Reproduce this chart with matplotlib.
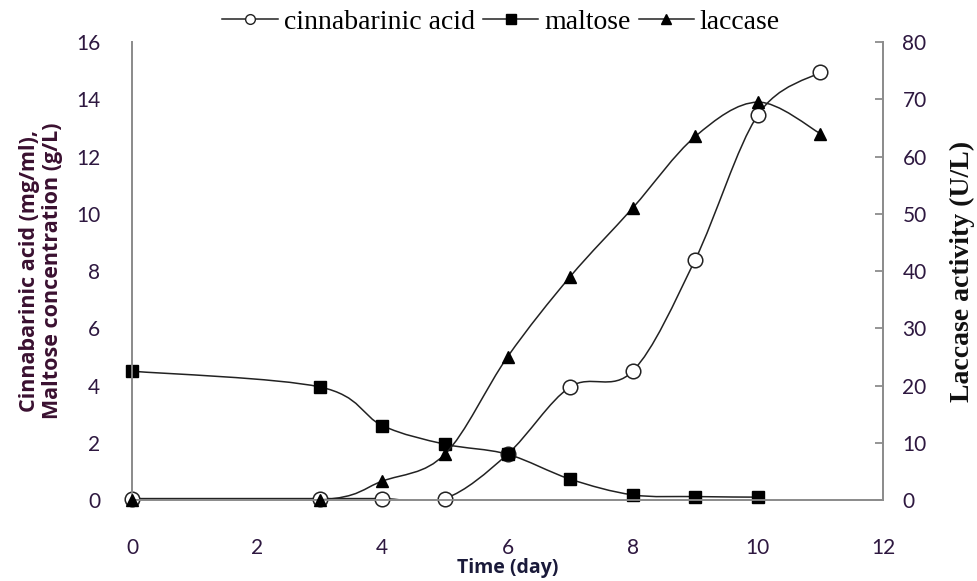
import numpy as np
import matplotlib
matplotlib.use("Agg")
import matplotlib.pyplot as plt
from matplotlib.path import Path
from matplotlib.patches import PathPatch
from matplotlib.lines import Line2D

# ---- data ----
days_ca = [0, 3, 4, 5, 6, 7, 8, 9, 10, 11]
cinnabarinic = [0.05, 0.05, 0.05, 0.05, 1.6, 3.95, 4.5, 8.4, 13.45, 14.95]

days_m = [0, 3, 4, 5, 6, 7, 8, 9, 10]
maltose = [4.5, 3.95, 2.6, 1.95, 1.6, 0.73, 0.18, 0.12, 0.1]

days_l = [0, 3, 4, 5, 6, 7, 8, 9, 10, 11]
laccase = [0, 0, 3.3, 8, 25, 39, 51, 63.5, 69.5, 64]

xticks = [0, 2, 4, 6, 8, 10, 12]
yticks_left = [0, 2, 4, 6, 8, 10, 12, 14, 16]
yticks_right = [0, 10, 20, 30, 40, 50, 60, 70, 80]

TICK_COL = '#2e1840'
LABEL_COL = '#3a1030'
SPINE_COL = '#8c8c8c'
SANS = ['Lato', 'DejaVu Sans']
BOLD_SANS = ['Open Sans', 'DejaVu Sans']
SERIF = ['Liberation Serif', 'DejaVu Serif']


def smooth_path(xs, ys):
    """Excel-style smoothed line as cubic Bezier segments through the points."""
    pts = np.column_stack([xs, ys]).astype(float)
    n = len(pts)
    verts = [pts[0]]
    codes = [Path.MOVETO]
    for i in range(n - 1):
        p0 = pts[i - 1] if i > 0 else pts[i]
        p1 = pts[i]
        p2 = pts[i + 1]
        p3 = pts[i + 2] if i + 2 < n else pts[i + 1]
        c1 = p1 + (p2 - p0) / 6.0
        c2 = p2 - (p3 - p1) / 6.0
        verts += [c1, c2, p2]
        codes += [Path.CURVE4] * 3
    return Path(verts, codes)


fig = plt.figure(figsize=(9.77, 5.81), dpi=100)
ax = fig.add_axes([0.1351, 0.1394, 0.7687, 0.7883])
ax2 = ax.twinx()

for a in (ax, ax2):
    a.set_xlim(0, 12)
    for s in a.spines.values():
        s.set_color(SPINE_COL)
        s.set_linewidth(1.3)
    a.spines['top'].set_visible(False)

ax.set_ylim(0, 16)
ax2.set_ylim(0, 80)

# lines
ax.add_patch(PathPatch(smooth_path(days_ca, cinnabarinic), fill=False, lw=1.1, color='#222222', zorder=2))
ax.add_patch(PathPatch(smooth_path(days_m, maltose), fill=False, lw=1.1, color='#222222', zorder=2))
ax2.add_patch(PathPatch(smooth_path(days_l, laccase), fill=False, lw=1.1, color='#222222', zorder=2))

ax.plot(days_ca, cinnabarinic, ls='none', marker='o', ms=10.5, mfc='white', mec='#222222', mew=1.1, zorder=4, clip_on=False)
ax.plot(days_m, maltose, ls='none', marker='s', ms=8.6, mfc='black', mec='black', zorder=5, clip_on=False)
ax2.plot(days_l, laccase, ls='none', marker='^', ms=9, mfc='black', mec='black', zorder=5, clip_on=False)

# ticks
ax.set_xticks(xticks)
ax.set_yticks(yticks_left)
ax2.set_yticks(yticks_right)
ax.tick_params(axis='x', length=0, pad=27, labelsize=15, labelcolor=TICK_COL)
ax.tick_params(axis='y', length=0, pad=23, labelsize=15, labelcolor=TICK_COL)
ax2.tick_params(axis='y', direction='in', length=6, width=1.3, color=SPINE_COL, pad=14, labelsize=15, labelcolor=TICK_COL)
for lab in ax.get_xticklabels() + ax.get_yticklabels() + ax2.get_yticklabels():
    lab.set_family(SANS)

ax.set_xlabel('Time (day)', fontsize=14, fontweight='bold', family=BOLD_SANS, color='#1a1a3a', labelpad=0)
ax.set_ylabel('Cinnabarinic acid (mg/ml),\nMaltose concentration (g/L)', fontsize=15.5, family=BOLD_SANS,
              fontweight='bold', color=LABEL_COL, labelpad=9, linespacing=1.15)
ax2.set_ylabel('Laccase activity (U/L)', fontsize=20, fontweight='bold', family=SERIF,
               color='#111111', labelpad=17)

handles = [
    Line2D([], [], color='#222222', lw=1.1, marker='o', ms=7, mfc='white', mec='#222222'),
    Line2D([], [], color='#222222', lw=1.1, marker='s', ms=7, mfc='black', mec='black'),
    Line2D([], [], color='#222222', lw=1.1, marker='^', ms=7, mfc='black', mec='black'),
]
fig.legend(handles, ['cinnabarinic acid', 'maltose', 'laccase'], loc='center', bbox_to_anchor=(0.513, 0.962),
           ncol=3, frameon=False, prop={'family': SERIF, 'size': 20},
           handlelength=2.0, handletextpad=0.2, columnspacing=0.3, borderaxespad=0)

fig.savefig('out.png', dpi=100)
